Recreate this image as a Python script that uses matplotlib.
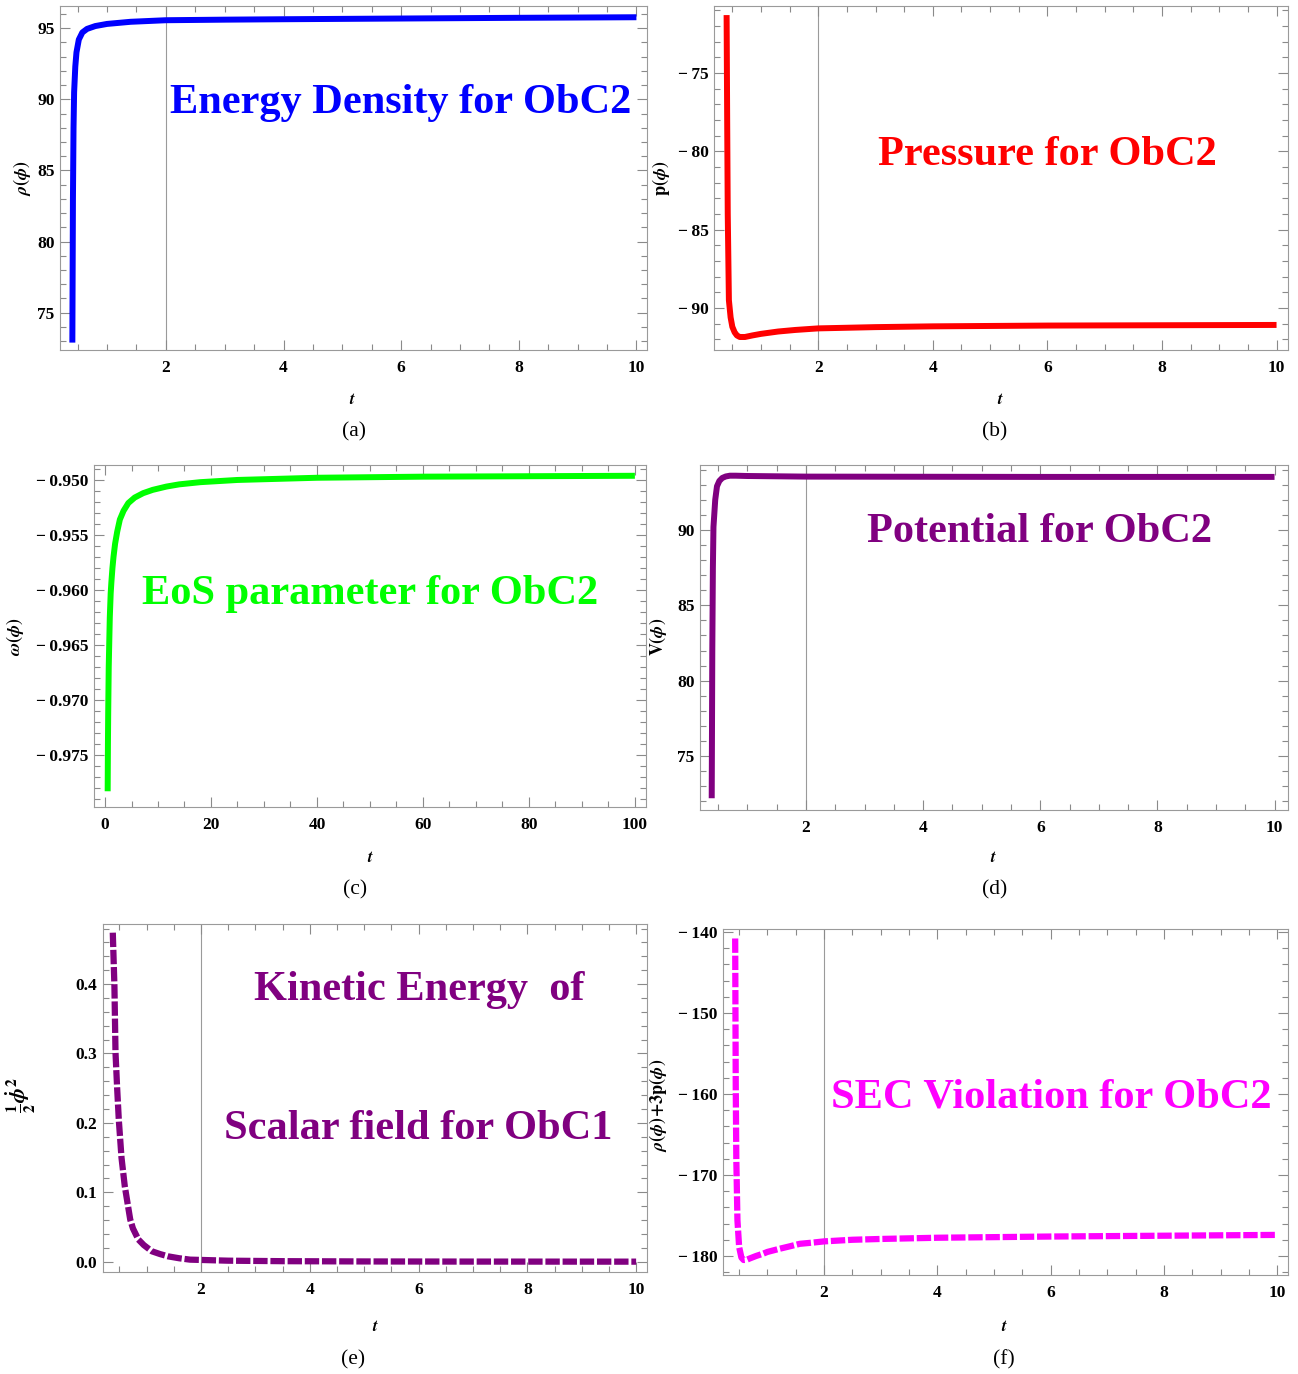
import numpy as np
import matplotlib
matplotlib.use("Agg")
import matplotlib.pyplot as plt
from matplotlib.ticker import MultipleLocator, FuncFormatter

plt.rcParams['font.family'] = ['Liberation Serif', 'DejaVu Serif']
plt.rcParams['font.weight'] = 'bold'
plt.rcParams['mathtext.fontset'] = 'stix'

W, H = 1298, 1374

# -- data --
t_rho = [0.41, 0.415, 0.42, 0.43, 0.44, 0.46, 0.48, 0.52, 0.58, 0.66, 0.8, 1.0, 1.4, 2, 3, 4, 6, 8, 10]
rho = [72.9, 78, 83, 88, 90.5, 92.3, 93.3, 94.2, 94.7, 94.95, 95.15, 95.3, 95.45, 95.56, 95.6, 95.63, 95.68, 95.73, 95.77]

t_p = [0.40, 0.41, 0.42, 0.44, 0.47, 0.50, 0.54, 0.58, 0.63, 0.72, 0.85, 1.0, 1.3, 1.6, 2, 3, 4, 6, 8, 10]
pres = [-71.3, -78, -84, -89.5, -90.6, -91.2, -91.55, -91.75, -91.85, -91.85, -91.75, -91.65, -91.5, -91.4,
        -91.3, -91.22, -91.17, -91.12, -91.1, -91.08]

t_w = [0.5, 0.55, 0.6, 0.7, 0.9, 1.07, 1.2, 1.4, 1.6, 1.9, 2.3, 2.8, 3.5, 4.4, 5.6, 7.2, 9, 11.6, 14, 18, 25,
       40, 60, 80, 100]
omega = [-0.9783, -0.9740, -0.9712, -0.9670, -0.9625, -0.9603, -0.9593, -0.9580, -0.9570, -0.9558, -0.9547,
         -0.9536, -0.9528, -0.9521, -0.9516, -0.9512, -0.9509, -0.9506, -0.9504, -0.9502, -0.9500,
         -0.9498, -0.9497, -0.94966, -0.94962]

t_V = [0.39, 0.395, 0.40, 0.41, 0.42, 0.45, 0.48, 0.52, 0.57, 0.63, 0.70, 0.8, 1.0, 2, 4, 6, 8, 10]
pot = [72.2, 77, 82, 87.5, 90.2, 92.0, 92.9, 93.25, 93.45, 93.55, 93.6, 93.6, 93.58, 93.54, 93.53, 93.52, 93.52, 93.52]

t_K = [0.38, 0.41, 0.43, 0.46, 0.49, 0.54, 0.60, 0.70, 0.75, 0.85, 0.95, 1.1, 1.25, 1.4, 1.6, 1.8, 2.5, 3.5,
       5, 7, 10]
kin = [0.474, 0.397, 0.301, 0.25, 0.205, 0.15, 0.109, 0.061, 0.048, 0.032, 0.024, 0.015, 0.011, 0.0077,
       0.005, 0.003, 0.0015, 0.0008, 0.0004, 0.0002, 0.0001]

t_S = [0.43, 0.435, 0.44, 0.45, 0.47, 0.50, 0.54, 0.58, 0.64, 0.69, 0.8, 0.93, 1.0, 1.22, 1.4, 1.57, 1.8,
       2, 2.5, 3, 4, 6, 8, 10]
sec = [-140.8, -150, -159, -168, -175.6, -178.9, -180.2, -180.5, -180.45, -180.3, -180.0, -179.7, -179.5,
       -179.1, -178.8, -178.5, -178.35, -178.2, -178.0, -177.9, -177.75, -177.6, -177.5, -177.4]

MINUS = '\u2212\u2009'

def fmt(dec):
    def f(v, pos):
        s = f'{abs(v):.{dec}f}'
        return (MINUS + s) if v < -1e-12 else s
    return FuncFormatter(f)

panels = [
    dict(t=t_rho, y=rho, c='#0000ff', rect=(60, 647, 6, 350), xl=(0.20, 10.18), yl=(72.38, 96.56),
         xmaj=2, xmin=0.5, ymaj=5, ymin=1, dec=0, vline=True, dash=False,
         ylab=r'$\rho(\phi)$', ylab_xy=(22, 178), tlab_xy=(352, 400), tag='(a)', tag_xy=(354, 432),
         ann=[('Energy Density for ObC2', 401, 113)]),
    dict(t=t_p, y=pres, c='#ff0000', rect=(714, 1288, 6, 350), xl=(0.18, 10.2), yl=(-92.68, -70.72),
         xmaj=2, xmin=0.5, ymaj=5, ymin=1, dec=0, vline=True, dash=False,
         ylab=r'$\mathbf{p}(\phi)$', ylab_xy=(661, 178), tlab_xy=(1000, 400), tag='(b)', tag_xy=(995, 432),
         ann=[('Pressure for ObC2', 1047, 165)]),
    dict(t=t_w, y=omega, c='#00ff00', rect=(94, 646, 465, 807), xl=(-2.08, 102.1), yl=(-0.97973, -0.94864),
         xmaj=20, xmin=5, ymaj=0.005, ymin=0.001, dec=3, vline=False, dash=False,
         ylab=r'$\omega(\phi)$', ylab_xy=(15, 637), tlab_xy=(370, 858), tag='(c)', tag_xy=(355, 890),
         ann=[('EoS parameter for ObC2', 370, 604)]),
    dict(t=t_V, y=pot, c='#800080', rect=(700, 1288, 465, 810), xl=(0.19, 10.23), yl=(71.42, 94.31),
         xmaj=2, xmin=0.5, ymaj=5, ymin=1, dec=0, vline=True, dash=False,
         ylab=r'$\mathbf{V}(\phi)$', ylab_xy=(658, 637), tlab_xy=(993, 858), tag='(d)', tag_xy=(995, 890),
         ann=[('Potential for ObC2', 1040, 542)]),
    dict(t=t_K, y=kin, c='#800080', rect=(103, 647, 924, 1272), xl=(0.20, 10.2), yl=(-0.0148, 0.4865),
         xmaj=2, xmin=0.5, ymaj=0.1, ymin=0.02, dec=1, vline=True, dash=True,
         ylab=r'$\mathbf{\frac{1}{2}}\dot{\phi}^{\mathbf{2}}$', ylab_xy=(21, 1095), tlab_xy=(375, 1327),
         tag='(e)', tag_xy=(353, 1360),
         ann=[('Kinetic Energy  of', 419, 1000), ('Scalar field for ObC1', 418, 1139)]),
    dict(t=t_S, y=sec, c='#ff00ff', rect=(723, 1288, 929, 1275), xl=(0.215, 10.19), yl=(-182.35, -139.63),
         xmaj=2, xmin=0.5, ymaj=10, ymin=2, dec=0, vline=True, dash=True,
         ylab=r'$\rho(\phi)\!+\!3\mathrm{p}(\phi)$', ylab_xy=(658, 1105), tlab_xy=(1004, 1327), tag='(f)',
         tag_xy=(1004, 1360),
         ann=[('SEC Violation for ObC2', 1051, 1107)]),
]

fig = plt.figure(figsize=(W / 100, H / 100), dpi=100)

def fx(x):
    return x / W

def fy(y):
    return 1 - y / H

for p in panels:
    l, r, t, b = p['rect']
    ax = fig.add_axes([fx(l), fy(b), (r - l) / W, (b - t) / H])
    if p['vline']:
        ax.axvline(2, color='#9a9a9a', lw=0.8, zorder=1)
    if p['dash']:
        ax.plot(p['t'], p['y'], color=p['c'], lw=4.5, dashes=(2.3, 0.45), zorder=3)
    else:
        ax.plot(p['t'], p['y'], color=p['c'], lw=4.3, solid_capstyle='butt', zorder=3)
    ax.set_xlim(*p['xl'])
    ax.set_ylim(*p['yl'])
    ax.xaxis.set_major_locator(MultipleLocator(p['xmaj']))
    ax.xaxis.set_minor_locator(MultipleLocator(p['xmin']))
    ax.yaxis.set_major_locator(MultipleLocator(p['ymaj']))
    ax.yaxis.set_minor_locator(MultipleLocator(p['ymin']))
    ax.yaxis.set_major_formatter(fmt(p['dec']))
    ax.xaxis.set_major_formatter(fmt(0))
    ax.tick_params(which='both', direction='in', top=True, right=True, color='#8a8a8a', width=0.8,
                   labelsize=12.5)
    ax.tick_params(which='major', length=7)
    ax.tick_params(which='minor', length=4)
    ax.tick_params(axis='x', pad=7)
    ax.tick_params(axis='y', pad=4)
    for s in ax.spines.values():
        s.set_color('#9a9a9a')
        s.set_linewidth(0.8)
    for txt, x, y in p['ann']:
        fig.text(fx(x), fy(y), txt, color=p['c'], fontsize=30.5, fontweight='bold', ha='center', va='baseline')
    ysize = 16 if p['tag'] == '(e)' else 13
    fig.text(fx(p['ylab_xy'][0]), fy(p['ylab_xy'][1]), p['ylab'], rotation=90, fontsize=ysize,
             ha='center', va='center')
    fig.text(fx(p['tlab_xy'][0]), fy(p['tlab_xy'][1]), r'$\boldsymbol{t}$', fontsize=12, ha='center', va='center')
    fig.text(fx(p['tag_xy'][0]), fy(p['tag_xy'][1]), p['tag'], fontsize=15.5, fontweight='normal',
             ha='center', va='center')

fig.savefig('out.png', dpi=100)
